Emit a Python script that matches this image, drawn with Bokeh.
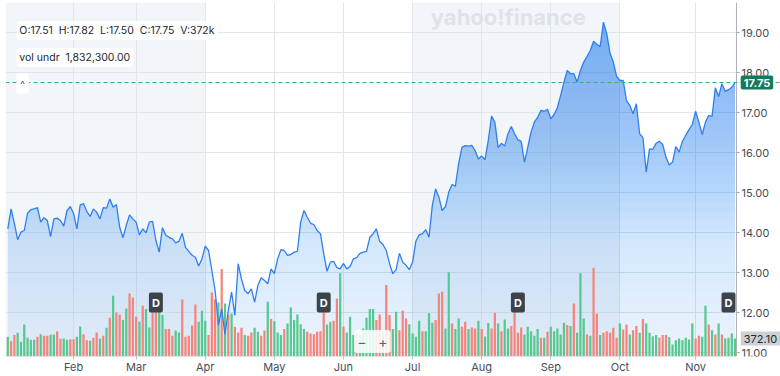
import numpy as np
from bokeh.plotting import figure
from bokeh.models import Range1d, FixedTicker, BoxAnnotation, Span, Label
from bokeh.core.properties import value
from bokeh.embed import file_html
from bokeh.resources import INLINE

# ---------------- data ----------------
price = [
    14.09, 14.59, 14.22, 13.82, 14.01, 14.05, 14.48, 14.57, 14.59, 14.62,
    14.26, 14.37, 14.30, 13.90, 14.34, 14.36, 14.30, 14.16, 14.55, 14.65,
    14.47, 14.09, 14.69, 14.72, 14.53, 14.40, 14.59, 14.51, 14.34, 14.62,
    14.61, 14.84, 14.63, 14.70, 14.13, 13.87, 14.18, 14.44, 14.34, 14.26,
    13.94, 14.09, 13.99, 14.26, 14.28, 13.80, 13.51, 14.12, 13.93, 13.88,
    13.84, 13.74, 13.78, 13.98, 13.63, 13.53, 13.43,
    13.38, 13.16, 13.34, 13.66, 13.55, 13.05, 12.55, 11.68, 12.09, 11.45,
    12.05, 12.51, 11.93, 13.22, 12.84, 12.55, 12.47, 12.59, 12.26, 12.68,
    12.87, 12.80, 12.72, 13.09, 12.97, 13.34, 13.57, 13.55, 13.43, 13.45,
    13.51, 13.53, 14.26, 14.55, 14.38, 14.23, 14.20, 14.05, 13.97, 13.47,
    13.03, 13.26, 13.28, 13.12, 13.09, 13.23, 13.09, 13.15, 13.34, 13.37,
    13.48, 13.51, 13.53, 13.88, 13.97, 14.09,
    13.78, 13.70, 13.55, 13.22, 12.97, 13.07, 13.48, 13.26, 13.18, 13.07,
    13.26, 13.78, 13.94, 13.97, 14.07, 13.88, 14.68, 15.09, 14.88, 14.55,
    14.65, 15.01, 15.20, 15.16, 15.72, 16.13, 16.17, 16.16, 16.18, 16.05,
    15.84, 15.91, 15.82, 16.30, 16.91, 16.76, 16.12, 16.23, 16.16, 16.47,
    16.65, 16.47, 16.32, 16.28, 15.76, 16.13, 16.51, 16.76, 16.88, 17.05,
    17.03, 17.08, 16.84, 16.95, 17.12, 17.43, 17.76, 18.05, 17.97, 17.97,
    17.76, 18.05, 18.26, 18.40, 18.55, 18.78, 18.70, 18.65, 19.26, 18.97,
    18.48, 18.26, 17.90, 17.80, 17.80, 17.30, 17.18, 16.97, 17.22, 16.47,
    16.37, 15.51, 16.09, 16.08, 16.23, 16.28, 16.20, 15.88, 15.69, 15.76,
    16.15, 16.01, 16.28, 16.43, 16.57, 16.70, 17.03, 16.76, 16.45, 16.76,
    16.93, 16.90, 17.62, 17.40, 17.72, 17.53, 17.57, 17.63, 17.75,
]

# volume in thousands of shares
volume = [
    407, 317, 442, 490, 304, 662, 386, 345, 345, 407, 462, 428, 428, 449, 449, 524, 366, 373, 345, 359,
    359, 407, 621, 462, 338, 324, 386, 497, 373, 428, 593, 800, 1256, 911, 869, 752, 994, 1304, 1221, 821,
    718, 1049, 980, 600, 1028, 994, 959, 856, 566, 566, 428, 538, 497, 1180, 407, 428, 642, 1076, 718, 945,
    738, 442, 1325, 1180, 1118, 1808, 1097, 869, 890, 614, 497, 593, 442, 428, 497, 593, 510,
    428, 538, 1132, 773, 731, 497, 442, 566, 683, 1014, 752, 869, 669, 566, 511, 476, 462, 511, 524, 959,
    662, 718, 738, 1201, 1718, 614, 497, 821, 442, 476, 442, 580, 800, 980, 980, 752, 869, 511, 1477, 856,
    566, 925, 545, 945, 787, 669, 476, 407, 738, 524, 524, 897, 697, 752, 1304, 1339, 580, 1739, 683, 566,
    787, 614, 718, 566, 600, 580, 738, 566, 414, 690,
    580, 904, 683, 524, 766, 580, 628, 994, 490, 600, 455, 614, 524, 428, 566, 386, 386, 511, 614, 524,
    580, 455, 697, 649, 628, 1097, 490, 1718, 787, 455, 428, 1835, 890, 442, 490, 524, 490, 593, 386, 683,
    559, 662, 455, 545, 628, 490, 773, 683, 490, 421, 442, 386, 442, 442, 400, 248, 338, 373, 338, 386,
    352, 683, 373, 428, 407, 1049, 662, 545, 455, 683, 455, 373, 386, 476, 372,
]

# 1 = up day (green), 0 = down day (red)
vol_up = [
    1, 0, 0, 1, 1, 1, 1, 1, 1, 0, 1, 0, 0, 1, 1, 0, 0, 1, 1, 0,
    0, 1, 1, 0, 0, 1, 0, 0, 1, 0, 1, 0, 1, 0, 0, 1, 1, 0, 0, 0,
    1, 0, 1, 1, 0, 0, 1, 1, 0, 0, 0, 1, 1, 0, 0, 0, 0, 0, 1, 1,
    1, 0, 0, 0, 1, 0, 1, 0, 1, 0, 0, 0, 1, 0, 0, 1, 1,
    0, 0, 1, 0, 1, 1, 1, 0, 1, 1, 1, 1, 1, 1, 0, 0, 0, 0, 0, 0,
    1, 1, 0, 0, 1, 0, 1, 1, 1, 0, 1, 1, 1, 1, 1, 0, 0, 1, 0, 0,
    1, 1, 0, 0, 0, 1, 1, 1, 1, 0, 1, 1, 1, 0, 0, 0, 1, 1, 0, 1,
    1, 0, 0, 1, 0, 0, 1, 0, 1, 1,
    0, 0, 1, 0, 1, 1, 0, 0, 0, 0, 1, 1, 1, 1, 1, 0, 1, 0, 1, 1,
    1, 1, 1, 0, 1, 0, 1, 1, 1, 0, 1, 0, 0, 1, 0, 0, 0, 0, 0, 1,
    0, 0, 1, 0, 0, 1, 0, 1, 1, 1, 1, 0, 0, 0, 1, 1, 1, 1, 1, 1,
    1, 1, 0, 0, 1, 1, 0, 1, 0, 1, 0, 1, 1, 1, 1,
]

month_ticks = [20, 39, 60, 81, 102, 123, 144, 165, 186, 209]
month_labels = ["Feb", "Mar", "Apr", "May", "Jun", "Jul", "Aug", "Sep", "Oct", "Nov"]
price_ticks = [11, 12, 13, 14, 15, 16, 17, 18, 19]
dividend_days = [45, 96, 155, 219]
last_close = 17.75
ohlc_text = "O:17.51\u00a0\u00a0H:17.82\u00a0\u00a0L:17.50\u00a0\u00a0C:17.75\u00a0\u00a0V:372k"
indicator_text = "vol undr\u00a0\u00a01,832,300.00"
last_volume_text = "372.10"

# ---------------- layout constants ----------------
FONT = "Inter"
X0, X1 = -0.70, 234.8          # full canvas width in day units
PLOT_END = 221.42              # where the price area ends / price scale begins
n = len(price)
idx = np.arange(n)

p = figure(width=780, height=376,
           x_range=Range1d(X0, X1), y_range=Range1d(10.9, 19.75),
           output_backend="svg", toolbar_location=None,
           min_border_left=5, min_border_top=2, min_border_right=0, min_border_bottom=0,
           outline_line_color=None, background_fill_color="white", border_fill_color="white")
p.extra_y_ranges = {"vol": Range1d(0, 7316)}
p.yaxis.visible = False

# alternating quarter shading
for left, right in [(X0, month_ticks[2]), (month_ticks[5], month_ticks[8])]:
    p.add_layout(BoxAnnotation(left=left, right=right, fill_color="#f3f6f9", fill_alpha=1,
                               line_alpha=0, level="image"))

# grids (horizontal ones stop at the price scale)
p.xgrid.ticker = FixedTicker(ticks=month_ticks)
p.xgrid.grid_line_color = "#e2e6ea"
p.ygrid.visible = False
p.segment(x0=[X0] * len(price_ticks), x1=[PLOT_END] * len(price_ticks),
          y0=price_ticks, y1=price_ticks, line_color="#e2e6ea", line_width=1, level="underlay")

# gradient area fill (stacked translucent layers)
ylo, yhi = p.y_range.start, p.y_range.end
stops_p = [10.9, 13.6, 16.05, 18.8, 19.75]
stops_a = [0.09, 0.20, 0.42, 0.58, 0.60]
levels = np.linspace(ylo, yhi, 40)[:-1]
A = np.interp(levels, stops_p, stops_a)
prev = 0.0
parr = np.array(price)
for lev, a_tot in zip(levels, A):
    a = 1 - (1 - a_tot) / (1 - prev)
    prev = a_tot
    p.varea(x=idx, y1=np.full(n, lev), y2=np.maximum(parr, lev),
            fill_color="#3083ee", fill_alpha=float(a))

# volume bars
colors = ["#55c98f" if u else "#f4857c" for u in vol_up]
p.vbar(x=np.arange(len(volume)), top=volume, width=0.68, fill_color=colors,
       line_color=None, y_range_name="vol")

# price line
p.line(idx, price, line_color="#2f7ff0", line_width=1.3)

# price scale (right side)
p.add_layout(Span(location=PLOT_END, dimension="height", line_color="#aab0b6", line_width=1))
p.segment(x0=[PLOT_END] * len(price_ticks), x1=[PLOT_END + 1.0] * len(price_ticks),
          y0=price_ticks, y1=price_ticks, line_color="#aab0b6", line_width=1)
p.text(x=[PLOT_END + 1.5] * len(price_ticks), y=price_ticks,
       text=[f"{t:.2f}" for t in price_ticks], text_baseline="middle", text_align="left",
       text_font=value(FONT), text_font_size="11px", text_color="#464e56")

# last price dashed line
p.add_layout(Span(location=last_close, dimension="width", line_color="#3fae88",
                  line_dash="4 3", line_width=1))

# x axis
p.xaxis.ticker = FixedTicker(ticks=month_ticks)
p.xaxis.major_label_overrides = {t: l for t, l in zip(month_ticks, month_labels)}
p.xaxis.axis_line_color = None
p.xaxis.major_tick_line_color = "#b9bfc5"
p.xaxis.major_tick_out = 3
p.xaxis.major_tick_in = 0
p.xaxis.minor_tick_line_color = None
p.xaxis.major_label_standoff = 0
p.xaxis.major_label_text_font = FONT
p.xaxis.major_label_text_font_size = "11px"
p.xaxis.major_label_text_color = "#464e56"
p.segment(x0=[X0], x1=[PLOT_END], y0=[ylo], y1=[ylo], line_color="#d3d8dd", line_width=1)

# watermark
p.add_layout(Label(x=152.1, y=19.4, text="yahoo!finance", text_align="center",
                   text_baseline="middle", text_font=FONT, text_font_size="22px",
                   text_font_style="bold", text_color="#dfe3e8"))

# info overlays
p.add_layout(Label(x=2.6, y=19.05, text=ohlc_text, text_align="left", text_baseline="middle",
                   text_font=FONT, text_font_size="10.5px", text_color="#232a31",
                   background_fill_color="white", padding=3, border_radius=4))
p.add_layout(Label(x=2.6, y=18.375, text=indicator_text, text_align="left", text_baseline="middle",
                   text_font=FONT, text_font_size="10.5px", text_color="#232a31",
                   background_fill_color="white", padding=3, border_radius=4))
p.add_layout(Label(x=4.5, y=17.725, text="^", text_align="center", text_baseline="middle",
                   text_font=FONT, text_font_size="10px", text_color="#464e56",
                   background_fill_color="white", padding=4, border_radius=3))

# dividend markers
for d in dividend_days:
    p.add_layout(Label(x=d, y=12.25, text="D", text_align="center", text_baseline="middle",
                       text_font=FONT, text_font_size="11px", text_font_style="bold",
                       text_color="white", background_fill_color="#3d434b",
                       padding=3, border_radius=2))

# zoom buttons
p.add_layout(Label(x=110.8, y=11.275, text="\u2212\u00a0\u00a0\u00a0+", text_align="center",
                   text_baseline="middle", text_font=FONT, text_font_size="14px",
                   text_color="#5b636a", background_fill_color="white",
                   background_fill_alpha=0.85, padding=3, border_radius=3))

# right-side value tags
p.add_layout(Label(x=PLOT_END + 1.3, y=last_close, text=f"{last_close:.2f}", text_align="left",
                   text_baseline="middle", text_font=FONT, text_font_size="11px",
                   text_font_style="bold", text_color="white",
                   background_fill_color="#137a5b", padding=3, border_radius=2))
p.add_layout(Label(x=PLOT_END + 1.3, y=volume[-1], y_range_name="vol", text=last_volume_text,
                   text_align="left", text_baseline="middle", text_font=FONT,
                   text_font_size="11px", text_color="#232a31",
                   background_fill_color="#cdd0d4", padding=3))

open("out.html", "w").write(file_html(p, INLINE))
